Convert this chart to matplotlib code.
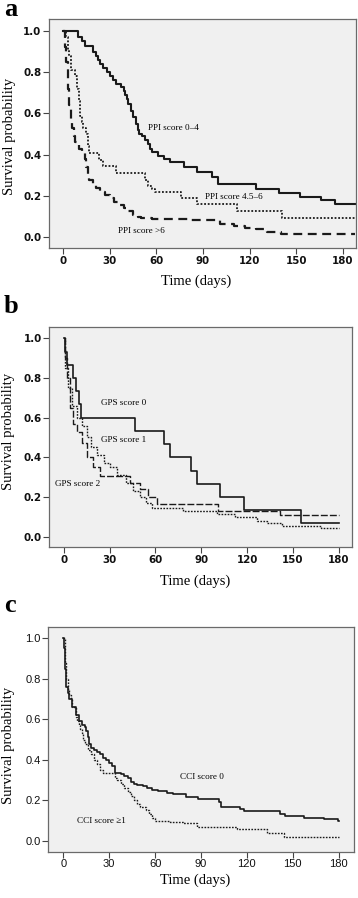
import matplotlib
matplotlib.use("Agg")
import matplotlib.pyplot as plt
from matplotlib.ticker import FormatStrFormatter
from matplotlib.font_manager import FontProperties

# ---------------- data ----------------
# Panel a: PPI
ppi04_t = [0, 9.5, 12, 14, 19, 21, 22.5, 24, 26, 28, 30, 32, 34, 37, 39, 40, 41, 42, 44, 45,
           47, 48, 49, 51, 53, 55, 56, 57, 61, 65, 69, 77.7, 86, 96, 100, 124, 138.7, 152.5,
           166, 174.7, 188]
ppi04_s = [1.0, 0.97, 0.95, 0.925, 0.90, 0.88, 0.86, 0.84, 0.82, 0.80, 0.78, 0.76, 0.745, 0.73,
           0.71, 0.69, 0.67, 0.645, 0.61, 0.585, 0.55, 0.52, 0.50, 0.49, 0.47, 0.45, 0.43, 0.415,
           0.395, 0.38, 0.365, 0.34, 0.318, 0.29, 0.257, 0.235, 0.216, 0.197, 0.18, 0.16, 0.16]
ppi456_t = [0, 2, 3, 4, 5, 8, 9, 10, 11, 12, 13, 15, 16, 17, 23, 26, 34, 53, 55, 57, 59, 76,
            86, 112, 141, 188]
ppi456_s = [1.0, 0.97, 0.91, 0.88, 0.81, 0.78, 0.72, 0.66, 0.59, 0.56, 0.53, 0.50, 0.44, 0.41,
            0.375, 0.345, 0.31, 0.28, 0.25, 0.235, 0.22, 0.19, 0.16, 0.125, 0.094, 0.094]
ppi6_t = [0, 1, 2, 3, 4, 5, 6, 7, 8, 10, 12, 14, 15, 16, 17, 19, 21, 24, 27, 30, 33, 36, 39,
          42, 45, 48, 50, 57, 81, 101, 110, 117, 124, 131, 140, 188]
ppi6_s = [1.0, 0.92, 0.85, 0.72, 0.64, 0.57, 0.53, 0.49, 0.46, 0.43, 0.41, 0.38, 0.34, 0.30,
          0.28, 0.26, 0.24, 0.22, 0.205, 0.19, 0.17, 0.155, 0.14, 0.125, 0.11, 0.10, 0.093,
          0.088, 0.083, 0.065, 0.055, 0.045, 0.038, 0.027, 0.016, 0.016]

# Panel b: GPS
gps0_t = [0, 0.7, 2, 6, 8, 9.6, 11, 46.5, 65.5, 69.5, 83, 87, 102, 118, 155.5, 180]
gps0_s = [1.0, 0.933, 0.867, 0.80, 0.733, 0.667, 0.60, 0.533, 0.467, 0.40, 0.333, 0.267,
          0.20, 0.133, 0.067, 0.067]
gps1_t = [0, 0.7, 2.8, 5, 8.3, 11.6, 15, 18, 21.4, 26, 30, 34.6, 41, 45.5, 50, 54, 57.5, 78,
          100, 112.4, 126.4, 133, 142.8, 168.6, 180]
gps1_s = [1.0, 0.85, 0.75, 0.66, 0.60, 0.56, 0.50, 0.45, 0.41, 0.37, 0.35, 0.31, 0.27, 0.23,
          0.20, 0.17, 0.145, 0.131, 0.114, 0.098, 0.081, 0.068, 0.055, 0.045, 0.045]
gps2_t = [0, 0.5, 1.7, 4, 6, 8.3, 11.6, 15, 19, 23.6, 41, 43, 50, 55, 61, 101, 141.7, 180]
gps2_s = [1.0, 0.90, 0.80, 0.65, 0.57, 0.53, 0.47, 0.40, 0.35, 0.305, 0.305, 0.27, 0.24, 0.20,
          0.163, 0.13, 0.109, 0.109]

# Panel c: CCI
cci0_t = [0, 0.5, 1, 2, 3, 4, 6, 8, 10, 12, 14, 15, 16, 17, 18, 20, 22, 24, 26, 28, 30, 32,
          34, 38, 40, 42, 44, 46, 48, 52, 55, 58, 62, 68, 72, 80.3, 88.3, 102, 103, 115.6, 118,
          141.8, 145, 157, 170.6, 179.5, 180]
cci0_s = [1.0, 0.95, 0.85, 0.76, 0.73, 0.70, 0.66, 0.62, 0.59, 0.57, 0.56, 0.54, 0.51, 0.48,
          0.46, 0.45, 0.44, 0.43, 0.41, 0.40, 0.385, 0.37, 0.335, 0.33, 0.32, 0.31, 0.29, 0.28,
          0.275, 0.27, 0.26, 0.25, 0.245, 0.235, 0.229, 0.217, 0.208, 0.19, 0.168, 0.155, 0.147,
          0.132, 0.122, 0.114, 0.106, 0.097, 0.097]
cci1_t = [0, 1, 2, 3, 4, 5, 6, 8, 9, 10, 11, 12, 13, 14, 16, 18, 20, 22, 24, 26, 34, 35, 38,
          40, 42, 44, 46, 48, 50, 54, 56, 58, 60, 63, 70, 78.5, 87.3, 113.5, 133, 144, 180]
cci1_s = [1.0, 0.88, 0.80, 0.75, 0.72, 0.70, 0.66, 0.61, 0.59, 0.57, 0.55, 0.53, 0.50, 0.48,
          0.45, 0.43, 0.40, 0.38, 0.35, 0.333, 0.31, 0.30, 0.28, 0.26, 0.24, 0.22, 0.20, 0.18,
          0.165, 0.15, 0.13, 0.11, 0.10, 0.098, 0.095, 0.086, 0.069, 0.058, 0.036, 0.02, 0.02]

x_ticks = [0, 30, 60, 90, 120, 150, 180]
y_ticks = [0.0, 0.2, 0.4, 0.6, 0.8, 1.0]

# ---------------- figure ----------------
W, H = 358, 898
fig = plt.figure(figsize=(W / 100, H / 100), dpi=100)
fig.patch.set_facecolor("white")

SERIF = "Liberation Serif"
LINE = "#1a1a1a"

def px_ax(l, t, r, b):
    return fig.add_axes([l / W, 1 - b / H, (r - l) / W, (b - t) / H])

def style(ax, xlim, ylim, tickfont):
    ax.set_facecolor("#f0f0f0")
    ax.set_xlim(*xlim)
    ax.set_ylim(*ylim)
    ax.set_xticks(x_ticks)
    ax.set_yticks(y_ticks)
    ax.yaxis.set_major_formatter(FormatStrFormatter("%.1f"))
    for s in ax.spines.values():
        s.set_color("#6a6a6a")
        s.set_linewidth(0.9)
    ax.tick_params(direction="out", length=4, width=0.8, color="#444444", pad=1.5,
                   labelcolor="#111111")
    for lab in ax.get_xticklabels() + ax.get_yticklabels():
        lab.set_fontproperties(tickfont)

bold_tick = FontProperties(family="DejaVu Sans", weight="bold", size=7.4)
reg_tick = FontProperties(family="Liberation Sans", size=8.0)

def labels(ax_xc, xl_y, yl_x, yl_yc, letter, letter_y):
    fig.text(ax_xc / W, 1 - xl_y / H, "Time (days)", family=SERIF, fontsize=10.5,
             ha="center", va="center")
    fig.text(yl_x / W, 1 - yl_yc / H, "Survival probability", family=SERIF, fontsize=10.5,
             ha="center", va="center", rotation=90)
    fig.text(4 / W, 1 - letter_y / H, letter, family=SERIF, fontsize=19, fontweight="bold",
             ha="left", va="baseline")

# Panel a
ax = px_ax(49, 19, 356, 248)
style(ax, (-9, 188.5), (-0.052, 1.058), bold_tick)
ax.step(ppi04_t, ppi04_s, where="post", color=LINE, lw=1.5)
ax.step(ppi456_t, ppi456_s, where="post", color=LINE, lw=1.3, linestyle=(0, (1, 1)))
ax.step(ppi6_t, ppi6_s, where="post", color=LINE, lw=1.6, linestyle=(0, (4, 2.5)))
ax.text(55, 0.531, "PPI score 0\u20134", family=SERIF, fontsize=6.6, va="center")
ax.text(91.5, 0.194, "PPI score 4.5\u20136", family=SERIF, fontsize=6.6, va="center")
ax.text(35.6, 0.032, "PPI score >6", family=SERIF, fontsize=6.6, va="center")
labels(196, 281, 10, 136.7, "a", 16.5)

# Panel b
ax = px_ax(49.3, 326.7, 352.3, 547.3)
style(ax, (-9.6, 189), (-0.053, 1.058), bold_tick)
ax.step(gps0_t, gps0_s, where="post", color=LINE, lw=1.2)
ax.step(gps1_t, gps1_s, where="post", color=LINE, lw=1.0, linestyle=(0, (1.2, 1)))
ax.step(gps2_t, gps2_s, where="post", color=LINE, lw=1.0, linestyle=(0, (5, 1.5)))
ax.text(24, 0.672, "GPS score 0", family=SERIF, fontsize=6.6, va="center")
ax.text(24, 0.487, "GPS score 1", family=SERIF, fontsize=6.6, va="center")
ax.text(-5.9, 0.264, "GPS score 2", family=SERIF, fontsize=6.6, va="center")
labels(194.7, 581.7, 9, 431.7, "b", 313)

# Panel c
ax = px_ax(48.3, 627.3, 354, 851.7)
style(ax, (-9.8, 190), (-0.054, 1.054), reg_tick)
ax.step(cci0_t, cci0_s, where="post", color=LINE, lw=1.2)
ax.step(cci1_t, cci1_s, where="post", color=LINE, lw=1.0, linestyle=(0, (1.2, 1)))
ax.text(76.4, 0.316, "CCI score 0", family=SERIF, fontsize=6.6, va="center")
ax.text(9.2, 0.099, "CCI score \u22651", family=SERIF, fontsize=6.6, va="center")
labels(195, 880, 9, 745, "c", 611.7)

fig.savefig("out.png", dpi=100, facecolor="white")
